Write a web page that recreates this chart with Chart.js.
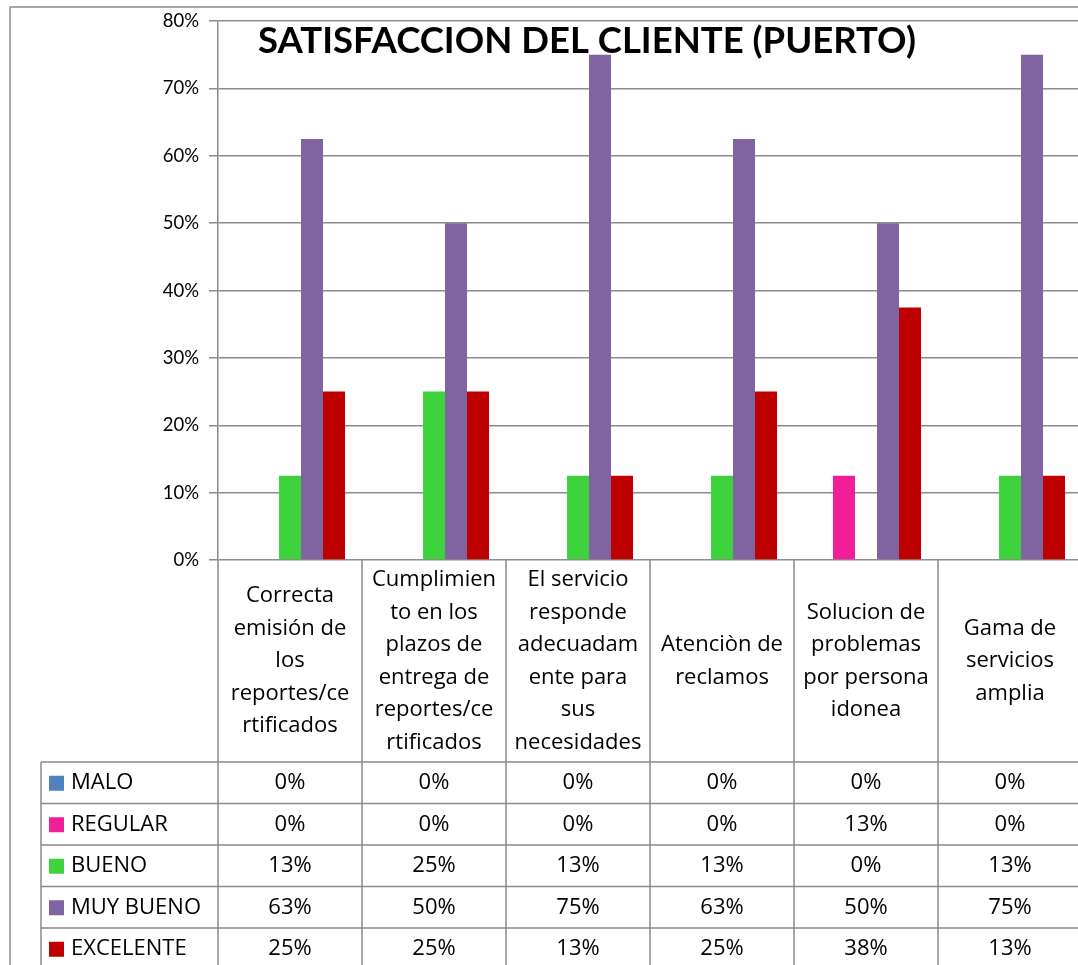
<!DOCTYPE html>
<html>
<head>
<meta charset="utf-8">
<script src="https://cdn.jsdelivr.net/npm/chart.js@4"></script>
<style>
html,body{margin:0;padding:0;background:#fff;overflow:hidden;}
#wrap{position:absolute;left:0;top:0;width:1090px;height:965px;}
</style>
</head>
<body>
<div id="wrap"><canvas id="c" width="1090" height="965"></canvas></div>
<script>
const categories = [
  ["Correcta","emisión de","los","reportes/ce","rtificados"],
  ["Cumplimien","to en los","plazos de","entrega de","reportes/ce","rtificados"],
  ["El servicio","responde","adecuadam","ente para","sus","necesidades"],
  ["Atenciòn de","reclamos"],
  ["Solucion de","problemas","por persona","idonea"],
  ["Gama de","servicios","amplia"]
];
const seriesNames = ["MALO","REGULAR","BUENO","MUY BUENO","EXCELENTE"];
const malo      = [0, 0, 0, 0, 0, 0];
const regular   = [0, 0, 0, 0, 0.125, 0];
const bueno     = [0.125, 0.25, 0.125, 0.125, 0, 0.125];
const muyBueno  = [0.625, 0.5, 0.75, 0.625, 0.5, 0.75];
const excelente = [0.25, 0.25, 0.125, 0.25, 0.375, 0.125];
const yTicks = [0, 0.1, 0.2, 0.3, 0.4, 0.5, 0.6, 0.7, 0.8];
const titleText = "SATISFACCION DEL CLIENTE (PUERTO)";

const colors = ["#4F81BD","#F21D9B","#3CD33C","#8064A2","#C00000"];
const seriesData = [malo, regular, bueno, muyBueno, excelente];
const FONT = "'Open Sans', Lato, sans-serif";
const TITLE_FONT = "Lato, 'Open Sans', sans-serif";
const LINE = "#8a8a8a";

const tablePlugin = {
  id: 'tablePlugin',
  beforeDraw(chart) {
    const ctx = chart.ctx;
    ctx.save();
    ctx.strokeStyle = LINE;
    ctx.lineWidth = 1.5;
    ctx.beginPath();
    ctx.moveTo(10, 965); ctx.lineTo(10, 7); ctx.lineTo(1090, 7);
    ctx.stroke();
    ctx.restore();
  },
  afterDraw(chart) {
    const ctx = chart.ctx;
    const x = chart.scales.x;
    const ca = chart.chartArea;
    const n = categories.length;
    const step = x.getPixelForValue(1) - x.getPixelForValue(0);
    const headerBottom = 762;
    const rowH = 41.5;
    const legendLeft = 41;
    ctx.save();
    ctx.strokeStyle = LINE;
    ctx.lineWidth = 1.5;
    ctx.beginPath();
    for (let i = 0; i <= n; i++) {
      const px = x.getPixelForValue(i) - step / 2;
      ctx.moveTo(px, ca.bottom); ctx.lineTo(px, 970);
    }
    ctx.moveTo(legendLeft, headerBottom); ctx.lineTo(legendLeft, 970);
    for (let r = 0; r <= seriesNames.length; r++) {
      const py = headerBottom + r * rowH;
      ctx.moveTo(legendLeft, py); ctx.lineTo(1090, py);
    }
    ctx.stroke();

    ctx.fillStyle = "#000";
    ctx.textAlign = "center";
    ctx.textBaseline = "middle";
    ctx.font = "22px " + FONT;
    const lh = 32.5;
    const hc = (ca.bottom + headerBottom) / 2;
    categories.forEach((lines, i) => {
      const cx = x.getPixelForValue(i);
      const y0 = hc - (lines.length - 1) * lh / 2;
      lines.forEach((t, k) => ctx.fillText(t, cx, y0 + k * lh));
    });

    seriesNames.forEach((name, r) => {
      const cy = headerBottom + r * rowH + rowH / 2;
      ctx.fillStyle = colors[r];
      ctx.fillRect(49, cy - 7, 15, 15);
      ctx.fillStyle = "#000";
      ctx.textAlign = "left";
      ctx.fillText(name, 71, cy);
      ctx.textAlign = "center";
      seriesData[r].forEach((v, i) => {
        ctx.fillText(Math.round(v * 100) + "%", x.getPixelForValue(i), cy);
      });
    });

    ctx.font = "bold 36.5px " + TITLE_FONT;
    ctx.textAlign = "center";
    ctx.textBaseline = "alphabetic";
    ctx.fillText(titleText, 587, 53);
    ctx.restore();
  }
};

new Chart(document.getElementById('c'), {
  type: 'bar',
  data: {
    labels: categories,
    datasets: seriesNames.map((name, i) => ({
      label: name,
      data: seriesData[i],
      backgroundColor: colors[i],
      borderWidth: 0,
      barPercentage: 1,
      categoryPercentage: 0.764
    }))
  },
  options: {
    responsive: false,
    animation: false,
    layout: { padding: { left: 0, top: 20, right: 8, bottom: 405 } },
    plugins: { legend: { display: false }, tooltip: { enabled: false }, title: { display: false } },
    scales: {
      x: {
        grid: { display: false },
        border: { display: false },
        ticks: { display: false },
        afterFit: s => { s.height = 0; }
      },
      y: {
        min: 0, max: 0.8,
        afterFit: s => { s.width = 218; },
        afterBuildTicks: s => { s.ticks = yTicks.map(v => ({ value: v })); },
        ticks: {
          callback: v => Math.round(v * 100) + "%",
          color: "#000",
          font: { family: TITLE_FONT, size: 18.5 },
          padding: 10
        },
        grid: { color: LINE, lineWidth: 1.5, tickLength: 9 },
        border: { display: true, color: LINE, width: 1.5 }
      }
    }
  },
  plugins: [tablePlugin]
});
</script>
</body>
</html>
